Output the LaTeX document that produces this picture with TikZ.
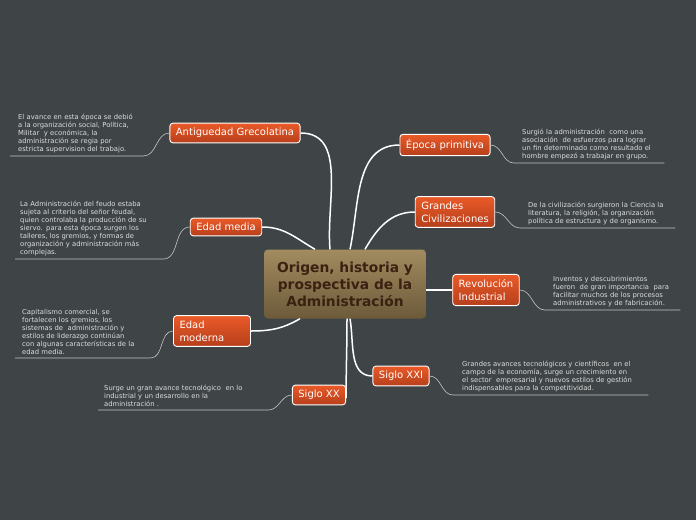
\documentclass[tikz,border=0pt]{standalone}
\usepackage{fontspec}
\setmainfont{DejaVu Sans}
\usetikzlibrary{positioning}

\definecolor{fondo}{HTML}{3F4547}
\definecolor{ramaarriba}{HTML}{EA5A28}
\definecolor{ramaabajo}{HTML}{B63F1C}
\definecolor{centroarriba}{HTML}{A28B5F}
\definecolor{centroabajo}{HTML}{6C5A3A}
\definecolor{centrotexto}{HTML}{3A2111}
\definecolor{notatexto}{HTML}{DCDCDC}
\definecolor{notalinea}{HTML}{C4C4C4}

\tikzset{
  rama/.style={draw=white, line width=0.9pt, rounded corners=3pt,
    top color=ramaarriba, bottom color=ramaabajo, text=white,
    font=\fontsize{10}{13}\selectfont, inner xsep=6pt, inner ysep=5pt, align=left},
  centro/.style={rounded corners=4pt, top color=centroarriba, bottom color=centroabajo,
    text=centrotexto, font=\bfseries\fontsize{13.8}{17}\selectfont, align=center,
    minimum width=162pt, minimum height=69pt, inner sep=2pt},
  nota/.style={text=notatexto, font=\fontsize{6.8}{8}\selectfont, align=left,
    inner ysep=3pt},
  enlace/.style={white, line width=1.5pt},
  guia/.style={notalinea, line width=0.6pt},
}

\begin{document}
\begin{tikzpicture}[x=1pt, y=-1pt]
  \fill[fondo] (0,0) rectangle (696,520);

  % centro
  \node[centro] (origen) at (345,284) {Origen, historia y\\ prospectiva de la\\ Administración};

  % ramas
  \node[rama] (primitiva) at (445,145) {Época primitiva};
  \node[rama] (grandes) at (455,212) {Grandes\\Civilizaciones};
  \node[rama] (revolucion) at (486,290) {Revolución\\Industrial};
  \node[rama] (sxxi) at (401,376) {Siglo XXI};
  \node[rama] (sxx) at (319,395) {Siglo XX};
  \node[rama, text width=65pt] (moderna) at (212,331) {Edad\\moderna};
  \node[rama] (media) at (226,227) {Edad media};
  \node[rama] (antigua) at (235,133) {Antiguedad Grecolatina};

  % enlaces del centro
  \draw[enlace] ([xshift=5pt]origen.north) to[out=78, in=180] (primitiva.west);
  \draw[enlace] ([xshift=20pt]origen.north) to[out=60, in=180] (grandes.west);
  \draw[enlace] ([yshift=-6pt]origen.east) to[out=0, in=180] (revolucion.west);
  \draw[enlace] ([xshift=5pt]origen.south) to[out=-80, in=180] (sxxi.west);
  \draw[enlace] ([xshift=2pt]origen.south) to[out=-90, in=90] ([yshift=-3pt]sxx.east);
  \draw[enlace] ([xshift=-45pt]origen.south) to[out=-150, in=0] (moderna.east);
  \draw[enlace] ([xshift=-30pt]origen.north) to[out=150, in=0] (media.east);
  \draw[enlace] ([xshift=-15pt]origen.north) to[out=95, in=0] (antigua.east);

  % notas izquierda
  \node[nota, anchor=south west, inner xsep=8pt, text width=117pt] (nantigua) at (10,156)
    {El avance en esta época se debió\\ a la organización social, Política,\\ Militar~ y económica, la\\ administración se regia por\\ estricta supervision del trabajo.};
  \node[nota, anchor=south west, inner xsep=5pt, text width=138pt] (nmedia) at (15,259)
    {La Administración del feudo estaba\\ sujeta al criterio del señor feudal,\\ quien controlaba la producción de su\\ siervo. para esta época surgen los\\ talleres, los gremios, y formas de\\ organización y administración más\\ complejas.};
  \node[nota, anchor=south west, inner xsep=7pt, text width=121pt] (nmoderna) at (15,358)
    {Capitalismo comercial, se\\ fortalecen los gremios, los\\ sistemas de~ administración y\\ estilos de liderazgo continúan\\ con algunas características de la\\ edad media.};
  \node[nota, anchor=south west, inner xsep=6pt, text width=158pt] (nsxx) at (98,410)
    {Surge un gran avance tecnológico~ en lo\\ industrial y un desarrollo en la\\ administración .};

  % notas derecha
  \node[nota, anchor=south west, inner xsep=8pt, text width=134pt] (nprimitiva) at (514,163)
    {Surgió la administración~ como una\\ asociación~ de esfuerzos para lograr\\ un fin determinado como resultado el\\ hombre empezó a trabajar en grupo.};
  \node[nota, anchor=south west, inner xsep=8pt, text width=139pt] (ngrandes) at (520,228)
    {De la civilización surgieron la Ciencia la\\ literatura, la religión, la organización\\ política de estructura y de organismo.};
  \node[nota, anchor=south west, inner xsep=8pt, text width=119pt] (nrevolucion) at (545,310)
    {Inventos y descubrimientos\\ fueron~ de gran importancia~ para\\ facilitar muchos de los procesos\\ administrativos y de fabricación.};
  \node[nota, anchor=south west, inner xsep=9pt, text width=177pt] (nsxxi) at (453,395)
    {Grandes avances tecnológicos y científicos~ en el\\ campo de la economía, surge un crecimiento en\\ el sector~ empresarial y nuevos estilos de gestión\\ indispensables para la competitividad.};

  % lineas de las notas
  \foreach \n/\r in {nantigua/antigua, nmedia/media, nmoderna/moderna, nsxx/sxx} {
    \draw[guia] (\n.south west) -- (\n.south east) to[out=0, in=180] (\r.west);
  }
  \foreach \n/\r in {nprimitiva/primitiva, ngrandes/grandes, nrevolucion/revolucion, nsxxi/sxxi} {
    \draw[guia] (\n.south east) -- (\n.south west) to[out=180, in=0] (\r.east);
  }
\end{tikzpicture}
\end{document}
